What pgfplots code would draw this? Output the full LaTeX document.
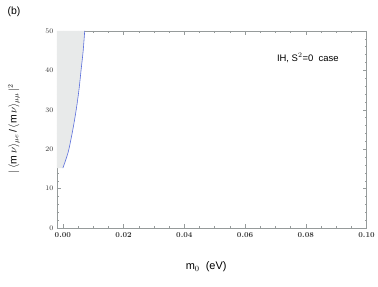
\documentclass[border=0pt]{standalone}
\usepackage{pgfplots}
\pgfplotsset{compat=1.18}
\usepackage{fontspec}
\setsansfont{Liberation Sans}
\definecolor{framegray}{RGB}{150,155,155}
\definecolor{shade}{RGB}{232,234,234}
\definecolor{curve}{RGB}{90,110,220}
\begin{document}
\begin{tikzpicture}
\begin{axis}[
    scale only axis,
    width=311pt, height=198pt,
    xmin=-0.002, xmax=0.1,
    ymin=0, ymax=50,
    xtick={0,0.02,0.04,0.06,0.08,0.1},
    xticklabels={0.00,0.02,0.04,0.06,0.08,0.10},
    ytick={0,10,20,30,40,50},
    minor x tick num=3,
    minor y tick num=4,
    tick align=inside,
    major tick length=4pt,
    minor tick length=2pt,
    axis line style={framegray},
    every tick/.style={framegray},
    tick label style={font=\fontsize{7.5}{8}\selectfont\bfseries, text=black!80},
    xticklabel style={yshift=-1pt},
    clip=true,
]
\addplot[fill=shade, draw=none] coordinates {
    (-0.002,15.2) (0,15.2) (0.00105,17.5) (0.0020,20) (0.0033,25) (0.0044,30) (0.0053,35) (0.0060,40) (0.0067,45) (0.0072,50) (-0.002,50)
} -- cycle;
\addplot[curve, line width=0.6pt, smooth] coordinates {
    (0,15.2) (0.00105,17.5) (0.0020,20) (0.0033,25) (0.0044,30) (0.0053,35) (0.0060,40) (0.0067,45) (0.0072,50)
};
\end{axis}
\path (current axis.south west)+(-57pt,-59pt) coordinate (bl);
\path (current axis.north east)+(10pt,31pt) coordinate (tr);
\path (bl) rectangle (tr);
\node[font=\sffamily\fontsize{10.5}{12}\selectfont, anchor=center] at ([xshift=14pt,yshift=-12pt]bl |- tr) {(b)};
\node[font=\sffamily\fontsize{9.5}{11}\selectfont, anchor=center] at ([xshift=309pt,yshift=-58pt]bl |- tr) {IH, S$^2$=0 \ case};
\node[font=\sffamily\fontsize{11}{12}\selectfont, anchor=center] at ([xshift=207pt,yshift=20pt]bl) {m$_0$ \ (eV)};
\node[font=\sffamily\fontsize{10.5}{12}\selectfont, rotate=90, anchor=center] at ([xshift=14pt,yshift=159pt]bl) {$|$\,$\langle$m\,$\nu$$\rangle$$_{\mu e}$\,/\,$\langle$m\,$\nu$$\rangle$$_{\mu\mu}$\,$|^2$};
\end{tikzpicture}
\end{document}
